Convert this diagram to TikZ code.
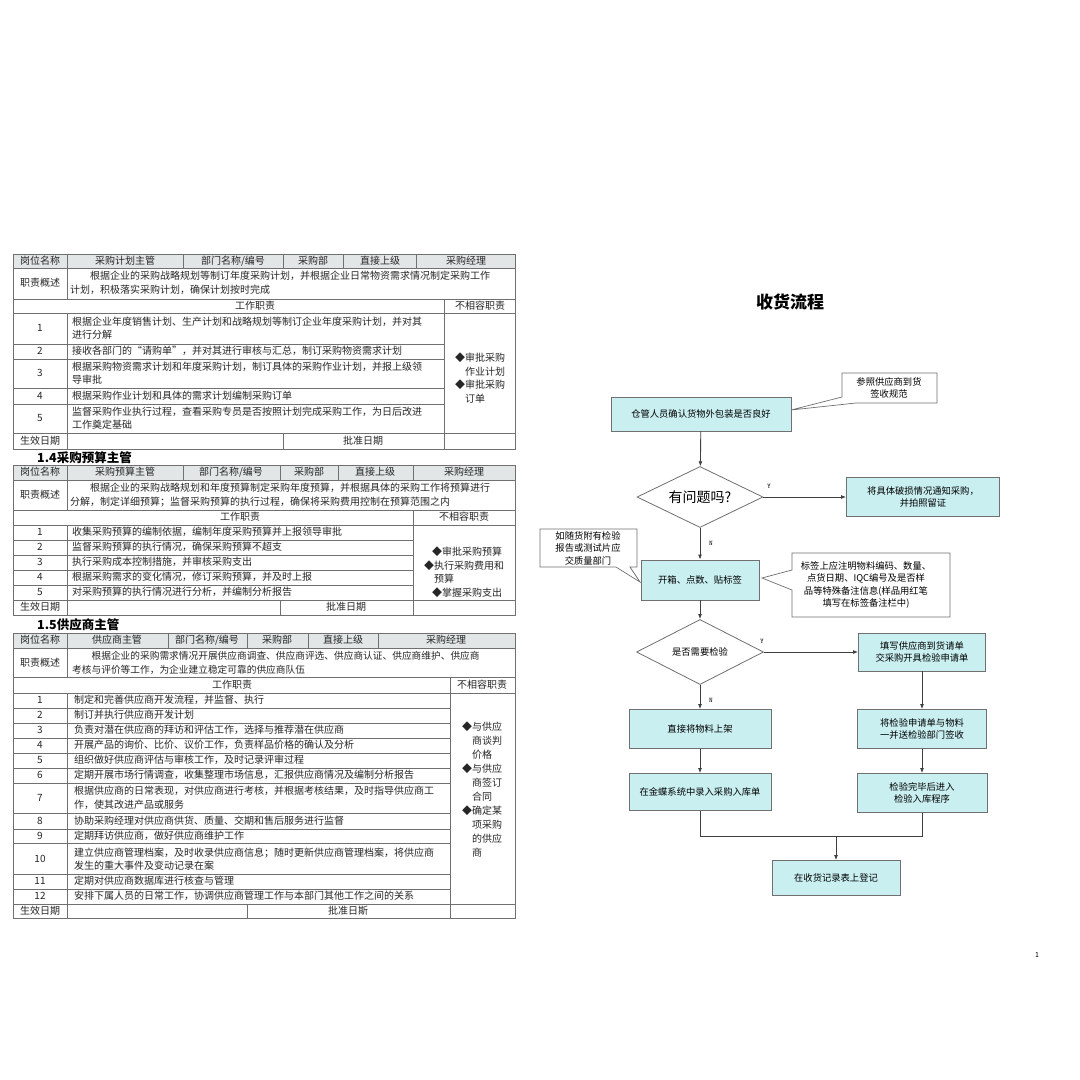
\documentclass[tikz,border=0pt]{standalone}
\usepackage{fontspec}
\setmainfont{Noto Sans CJK SC}
\usetikzlibrary{arrows.meta,shapes.geometric}
\definecolor{hdr}{HTML}{E2E6E6}
\definecolor{bx}{HTML}{C9EFF1}
\definecolor{ln}{HTML}{707070}
\newcommand{\tf}{\fontsize{10}{13.5}\selectfont}
\newcommand{\ff}{\fontsize{9.3}{12.5}\selectfont}
\begin{document}
\begin{tikzpicture}[x=1pt,y=-1pt,
  g/.style={draw=ln,line width=0.6pt},
  c/.style={font=\tf,inner sep=0,text=black!85},
  l/.style={font=\tf,inner sep=0,anchor=west,align=left,text=black!85},
  fbox/.style={draw=ln,fill=bx,line width=0.8pt,font=\ff,align=center,inner sep=0},
  arr/.style={draw=black!75,line width=0.9pt,-{Latex[length=5pt,width=4pt]}},
  yn/.style={font=\fontsize{7}{8}\selectfont\ttfamily,inner sep=0},
  call/.style={draw=ln,fill=white,line width=0.7pt}]
\useasboundingbox (0,0) rectangle (1080,1080);
\fill[white] (0,0) rectangle (1080,1080);
% ---------- Table 1
\fill[hdr] (13,254) rectangle (515,268);
\draw[g] (13,254) rectangle (515,449);
\foreach \y in {268,299,313,433} \draw[g] (13,\y)--(515,\y);
\foreach \y in {344,359,388,404} \draw[g] (13,\y)--(444,\y);
\draw[g] (67,254)--(67,299) (67,313)--(67,449) (444,299)--(444,449) (283,433)--(283,449);
\foreach \x in {183,283,343,416} \draw[g] (\x,254)--(\x,268);
\node[c] (a1) at (40,261) {岗位名称};
\node[c] (a2) at (125,261) {采购计划主管};
\node[c] (a3) at (233,261) {部门名称/编号};
\node[c] (a4) at (313,261) {采购部};
\node[c] (a5) at (380,261) {直接上级};
\node[c] (a6) at (466,261) {采购经理};
\node[c] (a7) at (40,283) {职责概述};
\node[l] (a8) at (70,283) {\hspace{2em}根据企业的采购战略规划等制订年度采购计划，并根据企业日常物资需求情况制定采购工作\\计划，积极落实采购计划，确保计划按时完成};
\node[c] (a9) at (255,306) {工作职责};
\node[c] (a10) at (480,306) {不相容职责};
\node[c] (n11) at (40,328) {1};
\node[l] (t11) at (72,328) {根据企业年度销售计划、生产计划和战略规划等制订企业年度采购计划，并对其\\进行分解};
\node[c] (n12) at (40,351) {2};
\node[l] (t12) at (72,351) {接收各部门的“请购单”，并对其进行审核与汇总，制订采购物资需求计划};
\node[c] (n13) at (40,373) {3};
\node[l] (t13) at (72,373) {根据采购物资需求计划和年度采购计划，制订具体的采购作业计划，并报上级领\\导审批};
\node[c] (n14) at (40,396) {4};
\node[l] (t14) at (72,396) {根据采购作业计划和具体的需求计划编制采购订单};
\node[c] (n15) at (40,418) {5};
\node[l] (t15) at (72,418) {监督采购作业执行过程，查看采购专员是否按照计划完成采购工作，为日后改进\\工作奠定基础};
\node[c,align=left] (r1) at (480,378) {◆审批采购\\\hspace{1em}作业计划\\◆审批采购\\\hspace{1em}订单};
\node[c] (f11) at (40,441) {生效日期};
\node[c] (f12) at (363,441) {批准日期};
% ---------- Table 2
\node[font=\fontsize{12.5}{14}\selectfont\bfseries,inner sep=0,anchor=west] (h2) at (37,458) {1.4采购预算主管};
\fill[hdr] (13,465) rectangle (515,480);
\draw[g] (13,465) rectangle (515,615);
\foreach \y in {480,510,525,600} \draw[g] (13,\y)--(515,\y);
\foreach \y in {540,555,570,585} \draw[g] (13,\y)--(413,\y);
\draw[g] (67,465)--(67,510) (67,525)--(67,615) (413,510)--(413,615) (280,600)--(280,615);
\foreach \x in {183,280,338,413} \draw[g] (\x,465)--(\x,480);
\node[c] (b1) at (40,472) {岗位名称};
\node[c] (b2) at (125,472) {采购预算主管};
\node[c] (b3) at (231,472) {部门名称/编号};
\node[c] (b4) at (309,472) {采购部};
\node[c] (b5) at (375,472) {直接上级};
\node[c] (b6) at (464,472) {采购经理};
\node[c] (b7) at (40,495) {职责概述};
\node[l] (b8) at (70,495) {\hspace{2em}根据企业的采购战略规划和年度预算制定采购年度预算，并根据具体的采购工作将预算进行\\分解，制定详细预算；监督采购预算的执行过程，确保将采购费用控制在预算范围之内};
\node[c] (b9) at (240,517) {工作职责};
\node[c] (b10) at (464,517) {不相容职责};
\node[c] (n21) at (40,532) {1};
\node[l] (t21) at (72,532) {收集采购预算的编制依据，编制年度采购预算并上报领导审批};
\node[c] (n22) at (40,547) {2};
\node[l] (t22) at (72,547) {监督采购预算的执行情况，确保采购预算不超支};
\node[c] (n23) at (40,562) {3};
\node[l] (t23) at (72,562) {执行采购成本控制措施，并审核采购支出};
\node[c] (n24) at (40,577) {4};
\node[l] (t24) at (72,577) {根据采购需求的变化情况，修订采购预算，并及时上报};
\node[c] (n25) at (40,592) {5};
\node[l] (t25) at (72,592) {对采购预算的执行情况进行分析，并编制分析报告};
\node[c,align=left] (r2) at (464,572) {\hspace{0.8em}◆审批采购预算\\◆执行采购费用和\\\hspace{1em}预算\\\hspace{0.8em}◆掌握采购支出};
\node[c] (f21) at (40,607) {生效日期};
\node[c] (f22) at (346,607) {批准日期};
% ---------- Table 3
\node[font=\fontsize{12.5}{14}\selectfont\bfseries,inner sep=0,anchor=west] (h3) at (37,625) {1.5供应商主管};
\fill[hdr] (13,633) rectangle (515,648);
\draw[g] (13,633) rectangle (515,918);
\foreach \y in {648,677,693,904} \draw[g] (13,\y)--(515,\y);
\foreach \y in {708,723,738,753,768,783,813,829,843,874,889} \draw[g] (13,\y)--(450,\y);
\draw[g] (67,633)--(67,677) (67,693)--(67,918) (450,677)--(450,918) (247,904)--(247,918);
\foreach \x in {168,247,308,378} \draw[g] (\x,633)--(\x,648);
\node[c] (d1) at (40,640) {岗位名称};
\node[c] (d2) at (117,640) {供应商主管};
\node[c] (d3) at (207,640) {部门名称/编号};
\node[c] (d4) at (277,640) {采购部};
\node[c] (d5) at (343,640) {直接上级};
\node[c] (d6) at (446,640) {采购经理};
\node[c] (d7) at (40,663) {职责概述};
\node[l,font=\fontsize{9.7}{13.5}\selectfont] (d8) at (72,663) {\hspace{2em}根据企业的采购需求情况开展供应商调查、供应商评选、供应商认证、供应商维护、供应商\\考核与评价等工作，为企业建立稳定可靠的供应商队伍};
\node[c] (d9) at (232,685) {工作职责};
\node[c] (d10) at (482,685) {不相容职责};
\node[c] (n31) at (40,700) {1};
\node[l] (t31) at (74,700) {制定和完善供应商开发流程，并监督、执行};
\node[c] (n32) at (40,715) {2};
\node[l] (t32) at (74,715) {制订并执行供应商开发计划};
\node[c] (n33) at (40,730) {3};
\node[l] (t33) at (74,730) {负责对潜在供应商的拜访和评估工作，选择与推荐潜在供应商};
\node[c] (n34) at (40,745) {4};
\node[l] (t34) at (74,745) {开展产品的询价、比价、议价工作，负责样品价格的确认及分析};
\node[c] (n35) at (40,760) {5};
\node[l] (t35) at (74,760) {组织做好供应商评估与审核工作，及时记录评审过程};
\node[c] (n36) at (40,775) {6};
\node[l] (t36) at (74,775) {定期开展市场行情调查，收集整理市场信息，汇报供应商情况及编制分析报告};
\node[c] (n37) at (40,798) {7};
\node[l] (t37) at (74,798) {根据供应商的日常表现，对供应商进行考核，并根据考核结果，及时指导供应商工\\作，使其改进产品或服务};
\node[c] (n38) at (40,821) {8};
\node[l] (t38) at (74,821) {协助采购经理对供应商供货、质量、交期和售后服务进行监督};
\node[c] (n39) at (40,836) {9};
\node[l] (t39) at (74,836) {定期拜访供应商，做好供应商维护工作};
\node[c] (n310) at (40,859) {10};
\node[l] (t310) at (74,859) {建立供应商管理档案，及时收录供应商信息；随时更新供应商管理档案，将供应商\\发生的重大事件及变动记录在案};
\node[c] (n311) at (40,881) {11};
\node[l] (t311) at (74,881) {定期对供应商数据库进行核查与管理};
\node[c] (n312) at (40,896) {12};
\node[l] (t312) at (74,896) {安排下属人员的日常工作，协调供应商管理工作与本部门其他工作之间的关系};
\node[c,align=left,font=\fontsize{10}{14}\selectfont] (r3) at (482,790) {◆与供应\\\hspace{1em}商谈判\\\hspace{1em}价格\\◆与供应\\\hspace{1em}商签订\\\hspace{1em}合同\\◆确定某\\\hspace{1em}项采购\\\hspace{1em}的供应\\\hspace{1em}商};
\node[c] (f31) at (40,911) {生效日期};
\node[c] (f32) at (348,911) {批准日斯};
% ---------- Flowchart
\node[font=\fontsize{17}{20}\selectfont\bfseries,inner sep=0] (title) at (790,302) {收货流程};
\node[fbox,minimum width=180,minimum height=34] (s1) at (701,414) {仓管人员确认货物外包装是否良好};
\draw[call] (842,373)--(937,373)--(937,403)--(856,403)--(791,410)--(842,397)--cycle;
\node[font=\ff,align=center,inner sep=0] (c1) at (889,388) {参照供应商到货\\签收规范};
\node[diamond,draw=ln,line width=0.8pt,aspect=2.05,minimum width=126,minimum height=61,inner sep=0,font=\fontsize{14}{16}\selectfont] (d1) at (700,497) {有问题吗?};
\node[fbox,minimum width=153,minimum height=39] (yb) at (923,497) {将具体破损情况通知采购，\\并拍照留证};
\node[fbox,minimum width=118,minimum height=40] (s2) at (700,580) {开箱、点数、贴标签};
\draw[call] (540,529)--(637,529)--(637,567)--(630,567)--(640,582)--(616,567)--(540,567)--cycle;
\node[font=\ff,align=center,inner sep=0] (c2) at (588,548) {如随货附有检验\\报告或测试片应\\交质量部门};
\draw[call] (792,553)--(950,553)--(950,617)--(792,617)--(792,590)--(762,578)--(792,570)--cycle;
\node[font=\ff,align=center,inner sep=0] (c3) at (866,585) {标签上应注明物料编码、数量、\\点货日期、IQC编号及是否样\\品等特殊备注信息(样品用红笔\\填写在标签备注栏中)};
\node[diamond,draw=ln,line width=0.8pt,aspect=1.95,minimum width=127,minimum height=65,inner sep=0,font=\ff] (d2) at (700,652) {是否需要检验};
\node[fbox,minimum width=127,minimum height=38] (p1) at (922,652) {填写供应商到货请单\\交采购开具检验申请单};
\node[fbox,minimum width=142,minimum height=39] (l1) at (700,729) {直接将物料上架};
\node[fbox,minimum width=142,minimum height=37] (l2) at (700,792) {在金蝶系统中录入采购入库单};
\node[fbox,minimum width=129,minimum height=39] (p2) at (922,729) {将检验申请单与物料\\一并送检验部门签收};
\node[fbox,minimum width=130,minimum height=39] (p3) at (922,793) {检验完毕后进入\\检验入库程序};
\node[fbox,minimum width=128,minimum height=35] (fin) at (836,878) {在收货记录表上登记};
\draw[arr] (s1)--(d1);
\draw[arr] (d1.east)--(yb.west);
\draw[arr] (d1.south)--(s2.north);
\draw[arr] (s2)--(d2);
\draw[arr] (d2.east)--(p1.west);
\draw[arr] (d2.south)--(l1.north);
\draw[arr] (l1)--(l2);
\draw[arr] (p1)--(p2);
\draw[arr] (p2)--(p3);
\coordinate (m) at (836,836);
\draw[draw=black!75,line width=0.9pt] (l2.south)|-(m)-|(p3.south);
\draw[arr] (m)--(fin.north);
\node[yn] (y1) at (769,486) {Y};
\node[yn] (n1) at (711,543) {N};
\node[yn] (y2) at (762,641) {Y};
\node[yn] (n2) at (711,700) {N};
\node[font=\fontsize{7}{8}\selectfont,inner sep=0] (pg) at (1037,955) {1};
\end{tikzpicture}
\end{document}
